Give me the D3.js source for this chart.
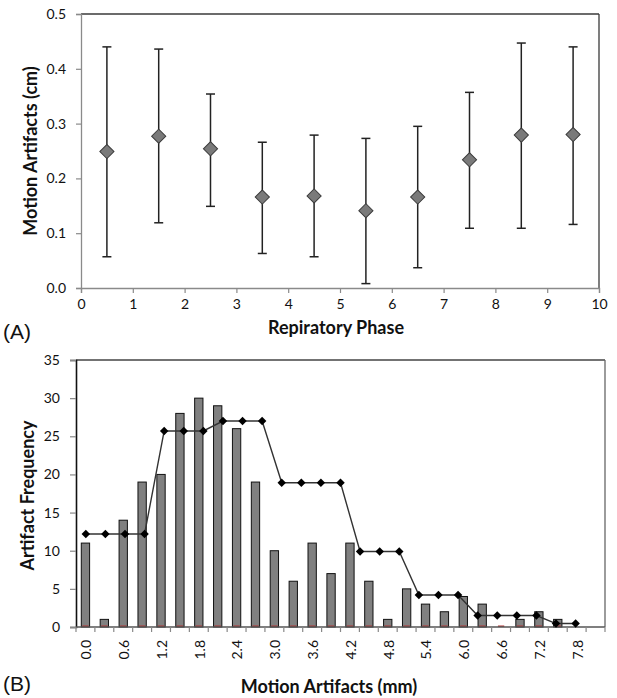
<!DOCTYPE html>
<html>
<head>
<meta charset="utf-8">
<script src="https://cdn.jsdelivr.net/npm/d3@7"></script>
<style>
  html, body { margin: 0; padding: 0; background: #fff; }
  svg { display: block; }
</style>
</head>
<body>
<svg id="chart" width="617" height="698"></svg>
<script>
// ---------- Panel A data ----------
const phases      = [0.5, 1.5, 2.5, 3.5, 4.5, 5.5, 6.5, 7.5, 8.5, 9.5];
const phaseMean   = [0.249, 0.277, 0.254, 0.166, 0.168, 0.141, 0.166, 0.234, 0.279, 0.280];
const phaseUpper  = [0.440, 0.436, 0.354, 0.266, 0.279, 0.273, 0.295, 0.357, 0.447, 0.440];
const phaseLower  = [0.057, 0.119, 0.149, 0.063, 0.057, 0.008, 0.037, 0.109, 0.109, 0.116];
const phaseTicksX = [0, 1, 2, 3, 4, 5, 6, 7, 8, 9, 10];
const phaseTicksY = [0.0, 0.1, 0.2, 0.3, 0.4, 0.5];

// ---------- Panel B data ----------
const binCategories = ["0.0","0.3","0.6","0.9","1.2","1.5","1.8","2.1","2.4","2.7",
                       "3.0","3.3","3.6","3.9","4.2","4.5","4.8","5.1","5.4","5.7",
                       "6.0","6.3","6.6","6.9","7.2","7.5","7.8","8.1"];
const binFrequency  = [11, 1, 14, 19, 20, 28, 30, 29, 26, 19,
                       10, 6, 11, 7, 11, 6, 1, 5, 3, 2,
                       4, 3, 0, 1, 2, 1, null, null];
const zeroSeries    = [0,0,0,0,0,0,0,0,0,0,0,0,0,0,0,0,0,0,0,0,0,0,0,0,0,0];
const lineCategories = binCategories.slice(0, 27);
const lineValues    = [12.2, 12.2, 12.2, 12.2, 25.7, 25.7, 25.7, 27.0, 27.0, 27.0,
                       18.9, 18.9, 18.9, 18.9, 9.9, 9.9, 9.9, 4.2, 4.2, 4.2,
                       1.5, 1.5, 1.5, 1.5, 0.45, 0.45, null];
const freqTicks     = [0, 5, 10, 15, 20, 25, 30, 35];
const labelEvery    = 2;

const svg = d3.select("#chart");
const FONT = "Lato, 'Open Sans', sans-serif";
const TITLE_SIZE = "18px";

// ================= Panel A =================
const A = { left: 81, right: 599, top: 14, bottom: 288 };
const xA = d3.scaleLinear().domain([0, 10]).range([A.left, A.right]);
const yA = d3.scaleLinear().domain([0, 0.5]).range([A.bottom, A.top]);
const gA = svg.append("g");

gA.append("line").attr("x1", A.left).attr("x2", A.right).attr("y1", A.top).attr("y2", A.top)
  .attr("stroke", "#3a3a3a").attr("stroke-width", 1.3);
gA.append("line").attr("x1", A.right).attr("x2", A.right).attr("y1", A.top).attr("y2", A.bottom)
  .attr("stroke", "#3a3a3a").attr("stroke-width", 1.3);

const axAy = gA.append("g").attr("transform", `translate(${A.left},0)`)
  .call(d3.axisLeft(yA).tickValues(phaseTicksY).tickFormat(d3.format(".1f")).tickSizeOuter(0).tickSize(5).tickPadding(10));
const axAx = gA.append("g").attr("transform", `translate(0,${A.bottom})`)
  .call(d3.axisBottom(xA).tickValues(phaseTicksX).tickFormat(d3.format("d")).tickSizeOuter(0).tickSize(5).tickPadding(6));
[axAy, axAx].forEach(ax => {
  ax.select(".domain").attr("stroke", "#8a8a8a").attr("stroke-width", 1.3);
  ax.selectAll(".tick line").attr("stroke", "#8a8a8a").attr("stroke-width", 1.2);
  ax.selectAll(".tick text").attr("fill", "#111").style("font-family", FONT).style("font-size", "14px");
});

const capW = 4.5;
phases.forEach((p, i) => {
  const x = xA(p);
  gA.append("line").attr("x1", x).attr("x2", x).attr("y1", yA(phaseUpper[i])).attr("y2", yA(phaseLower[i]))
    .attr("stroke", "#222").attr("stroke-width", 1.5);
  [phaseUpper[i], phaseLower[i]].forEach(v => {
    gA.append("line").attr("x1", x - capW).attr("x2", x + capW).attr("y1", yA(v)).attr("y2", yA(v))
      .attr("stroke", "#222").attr("stroke-width", 1.5);
  });
});
gA.selectAll("path.mk").data(phases).join("path")
  .attr("class", "mk")
  .attr("d", d3.symbol().type(d3.symbolSquare).size(100))
  .attr("transform", (d, i) => `translate(${xA(d)},${yA(phaseMean[i])}) rotate(45)`)
  .attr("fill", "#7a7a7a").attr("stroke", "#3c3c3c").attr("stroke-width", 1);

gA.append("text").attr("transform", `translate(31,${(A.top + A.bottom) / 2}) rotate(-90)`)
  .attr("text-anchor", "middle").attr("dy", "0.35em")
  .style("font-family", FONT).style("font-weight", "bold").style("font-size", TITLE_SIZE).attr("fill", "#111")
  .text("Motion Artifacts (cm)");
gA.append("text").attr("x", 336).attr("y", 328).attr("dy", "0.35em").attr("text-anchor", "middle")
  .style("font-family", FONT).style("font-weight", "bold").style("font-size", TITLE_SIZE).attr("fill", "#111")
  .text("Repiratory Phase");
gA.append("text").attr("x", 3).attr("y", 332).attr("dy", "0.35em")
  .style("font-family", "'Liberation Sans', Arial, sans-serif").style("font-size", "21px").attr("fill", "#111")
  .text("(A)");

// ================= Panel B =================
const B = { left: 76, right: 605, top: 360, bottom: 627 };
const xB = d3.scaleBand().domain(binCategories).range([B.left, B.right]).padding(0);
const xL = d3.scaleBand().domain(lineCategories).range([B.left, B.right]).padding(0);
const yB = d3.scaleLinear().domain([0, 35]).range([B.bottom, B.top]);
const gB = svg.append("g");

gB.append("line").attr("x1", B.left).attr("x2", B.right).attr("y1", B.top).attr("y2", B.top)
  .attr("stroke", "#444").attr("stroke-width", 1.3);
gB.append("line").attr("x1", B.right).attr("x2", B.right).attr("y1", B.top).attr("y2", B.bottom)
  .attr("stroke", "#666").attr("stroke-width", 1.3);

const barW = xB.bandwidth() * 0.44;
gB.selectAll("rect.bar").data(binCategories.filter((c, i) => binFrequency[i] != null && binFrequency[i] > 0))
  .join("rect").attr("class", "bar")
  .attr("x", c => xB(c) + xB.bandwidth() / 2 - barW / 2)
  .attr("y", c => yB(binFrequency[binCategories.indexOf(c)]))
  .attr("width", barW)
  .attr("height", c => yB(0) - yB(binFrequency[binCategories.indexOf(c)]))
  .attr("fill", "#808080").attr("stroke", "#111").attr("stroke-width", 1);
gB.selectAll("line.zero").data(zeroSeries).join("line").attr("class", "zero")
  .attr("x1", (d, i) => xB(binCategories[i]) + xB.bandwidth() / 2 - barW / 2 + 1)
  .attr("x2", (d, i) => xB(binCategories[i]) + xB.bandwidth() / 2 + barW / 2 - 1)
  .attr("y1", d => yB(d) - 0.8).attr("y2", d => yB(d) - 0.8)
  .attr("stroke", "#b03030").attr("stroke-width", 1.4);

const axBy = gB.append("g").attr("transform", `translate(${B.left},0)`)
  .call(d3.axisLeft(yB).tickValues(freqTicks).tickSizeOuter(0).tickSize(6).tickPadding(10));
axBy.select(".domain").attr("stroke", "#111").attr("stroke-width", 1.6);
axBy.selectAll(".tick line").attr("stroke", "#888").attr("stroke-width", 1.2);
axBy.selectAll(".tick text").attr("fill", "#111").style("font-family", FONT).style("font-size", "14px");

const axBx = gB.append("g").attr("transform", `translate(0,${B.bottom})`);
axBx.append("line").attr("x1", B.left).attr("x2", B.right).attr("y1", 0).attr("y2", 0)
  .attr("stroke", "#555").attr("stroke-width", 1.3);
const boundaries = binCategories.map(c => xB(c)).concat([B.right]);
axBx.selectAll("line.tk").data(boundaries).join("line").attr("class", "tk")
  .attr("x1", d => d).attr("x2", d => d).attr("y1", 0).attr("y2", 5)
  .attr("stroke", "#888").attr("stroke-width", 1.2);
axBx.selectAll("text.lbl").data(binCategories.filter((c, i) => i % labelEvery === 0))
  .join("text").attr("class", "lbl")
  .attr("transform", c => `translate(${xB(c) + xB.bandwidth() / 2 + 1},13) rotate(-90)`)
  .attr("text-anchor", "end").attr("dy", "0.35em")
  .style("font-family", FONT).style("font-size", "14px").attr("fill", "#111")
  .text(c => c);

const pts = lineCategories.map((c, i) => ({ c, v: lineValues[i] })).filter(d => d.v != null);
gB.append("path").datum(pts)
  .attr("d", d3.line().x(d => xL(d.c) + xL.bandwidth() / 2).y(d => yB(d.v)))
  .attr("fill", "none").attr("stroke", "#333").attr("stroke-width", 1.4);
gB.selectAll("path.lm").data(pts).join("path").attr("class", "lm")
  .attr("d", d3.symbol().type(d3.symbolSquare).size(36))
  .attr("transform", d => `translate(${xL(d.c) + xL.bandwidth() / 2},${yB(d.v)}) rotate(45)`)
  .attr("fill", "#000");

gB.append("text").attr("transform", `translate(28,${(B.top + B.bottom) / 2 + 2}) rotate(-90)`)
  .attr("text-anchor", "middle").attr("dy", "0.35em")
  .style("font-family", FONT).style("font-weight", "bold").style("font-size", TITLE_SIZE).attr("fill", "#111")
  .text("Artifact Frequency");
gB.append("text").attr("x", 329).attr("y", 687).attr("dy", "0.35em").attr("text-anchor", "middle")
  .style("font-family", FONT).style("font-weight", "bold").style("font-size", TITLE_SIZE).attr("fill", "#111")
  .text("Motion Artifacts (mm)");
gB.append("text").attr("x", 3).attr("y", 684).attr("dy", "0.35em")
  .style("font-family", "'Liberation Sans', Arial, sans-serif").style("font-size", "21px").attr("fill", "#111")
  .text("(B)");
</script>
</body>
</html>
